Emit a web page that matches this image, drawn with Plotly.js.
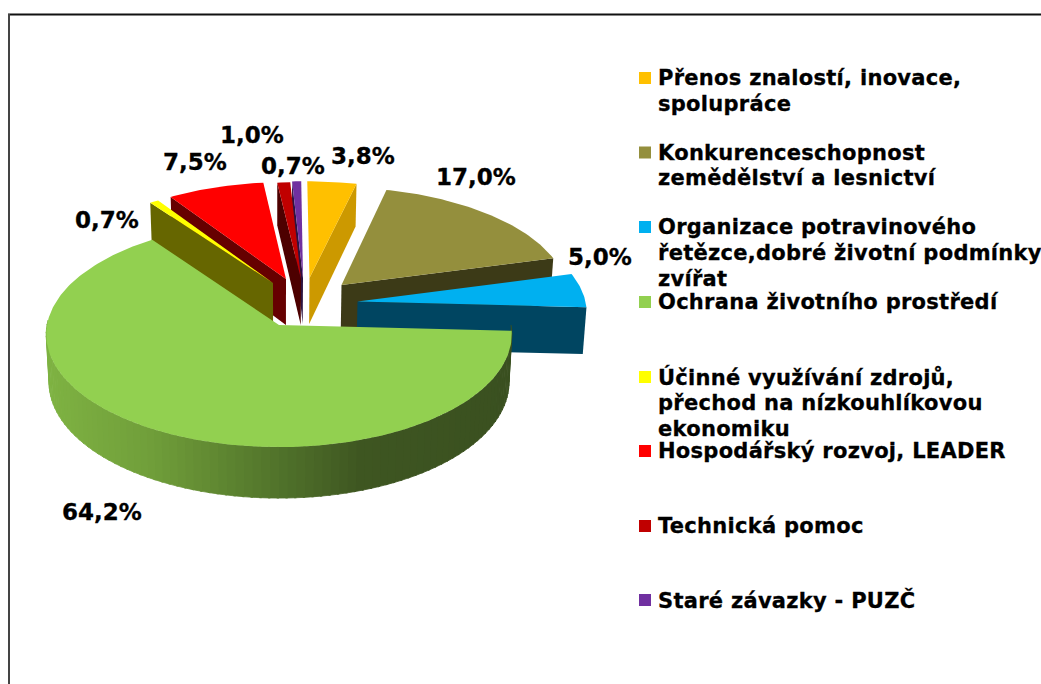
<!DOCTYPE html>
<html><head><meta charset="utf-8">
<script src="https://cdn.plot.ly/plotly-3.0.1.min.js"></script>
<style>html,body{margin:0;padding:0;background:#fff}#chart{width:1041px;height:684px}
.annotation-text{stroke:#000;stroke-width:0.3px}</style></head><body><div id="chart"></div>
<script>
// ---- data ----
const categories = [
  "Přenos znalostí, inovace,<br>spolupráce",
  "Konkurenceschopnost<br>zemědělství a lesnictví",
  "Organizace potravinového<br>řetězce,dobré životní podmínky<br>zvířat",
  "Ochrana životního prostředí",
  "Účinné využívání zdrojů,<br>přechod na nízkouhlíkovou<br>ekonomiku",
  "Hospodářský rozvoj, LEADER",
  "Technická pomoc",
  "Staré závazky - PUZČ"
];
const values = [3.8, 17.0, 5.0, 64.2, 0.7, 7.5, 1.0, 0.7];

// ---- styles ----
const topColors  = ["#FFC000","#948F3D","#00B0F0","#92D050","#FFFF00","#FF0000","#C00000","#7030A0"];
const faceColors = ["#CC9900","#3C3A17","#004561",null,"#666600","#660000","#4D0000","#2D1340"];
const faceRay    = ["end","end","end",null,"start","start","start","start"];
const paintOrder = [0,1,2,7,6,5,4,3];
// where each exploded slice's tip lands on the page
const apexPx = [[309.5,278],[341.5,285],[357.5,301.5],[279,325],[273,283],[286,279],[301,279],[303,278]];
const labelPos = [[363,156],[475.5,176.5],[599.5,256.5],[102,512],[106.5,220],[195,161.5],[252,134.5],[292.5,165.5]];
const legendY = [78,152.5,227,302,377,451,526,600];
const legendLineGap = 25.8;
const wallStops = [[50,[126,178,66]],[150,[112,158,58]],[280,[80,114,42]],[360,[62,86,33]],[510,[58,80,32]]];

// ---- 3D pie projection ----
const CX=279, CY=325, A=232, B=112, K=0.0825;
function toPlane(ax,ay){const X=ax-CX,Y=ay-CY;const v=Y/(B+K*Y);return [X*(1-K*v)/A,v];}
function proj(u,v,h){
  const d=1-K*v; let X=A*u/d, Y=B*v/d;
  if(h){X*=0.988; Y+=47.5+3.5*v;}
  return [CX+X,CY+Y];
}
function rim(o,deg,h){const t=deg*Math.PI/180;return proj(o[0]+Math.sin(t),o[1]-Math.cos(t),h);}
function poly(pts,color,w){
  return {type:'scatter',mode:'lines',x:pts.map(p=>p[0]),y:pts.map(p=>p[1]),fill:'toself',fillcolor:color,
    line:{color:color,width:w||0},hoverinfo:'skip',showlegend:false};
}
function mix(x){
  let i=0; while(i<wallStops.length-2&&x>wallStops[i+1][0])i++;
  const a=wallStops[i],b=wallStops[i+1];const t=Math.max(0,Math.min(1,(x-a[0])/(b[0]-a[0])));
  return 'rgb('+a[1].map((c,j)=>Math.round(c+(b[1][j]-c)*t)).join(',')+')';
}
const traces=[];
const total=values.reduce((a,b)=>a+b,0);
const starts=[];values.reduce((acc,v,i)=>{starts[i]=acc;return acc+v/total*360;},0);
paintOrder.forEach(i=>{
  const o=toPlane(apexPx[i][0],apexPx[i][1]);
  const s=starts[i], e=s+values[i]/total*360;
  if(faceRay[i]){
    const ang=faceRay[i]==='end'?e:s;
    traces.push(poly([proj(o[0],o[1],0),rim(o,ang,0),rim(o,ang,1),proj(o[0],o[1],1)],faceColors[i]));
  }
  if(i===3){
    for(let d=90;d<272;d+=2){
      const a=rim(o,d,0),b=rim(o,d+2.5,0),c=rim(o,d+2.5,1),f=rim(o,d,1);
      traces.push(poly([a,b,c,f],mix((a[0]+b[0])/2),0.8));
    }
  }
  const top=[proj(o[0],o[1],0)];
  for(let d=s;d<e;d+=1)top.push(rim(o,d,0));
  top.push(rim(o,e,0));
  traces.push(poly(top,topColors[i]));
});
// legend swatches
traces.push({type:'scatter',mode:'markers',x:categories.map(()=>645),y:legendY,
  marker:{symbol:'square',size:12,color:topColors},hoverinfo:'skip',showlegend:false});

const valueAnn=values.map((v,i)=>({x:labelPos[i][0],y:labelPos[i][1],xref:'x',yref:'y',xanchor:'center',yanchor:'middle',
  showarrow:false,text:v.toFixed(1).replace('.',',')+'%',font:{family:'DejaVu Sans',size:23,color:'#000',weight:700}}));
const legendAnn=[];
categories.forEach((c,i)=>c.split('<br>').forEach((line,j)=>legendAnn.push({
  x:656.5,y:legendY[i]+j*legendLineGap,xref:'x',yref:'y',xanchor:'left',yanchor:'middle',align:'left',
  showarrow:false,text:'<span style="letter-spacing:0.28px">'+line+'</span>',borderpad:0,
  font:{family:'DejaVu Sans',size:21,color:'#000',weight:700}})));

Plotly.newPlot('chart',traces,{
  width:1041,height:684,margin:{l:0,r:0,t:0,b:0},paper_bgcolor:'#fff',plot_bgcolor:'#fff',showlegend:false,
  xaxis:{range:[0,1041],visible:false,fixedrange:true},
  yaxis:{range:[684,0],visible:false,fixedrange:true},
  annotations:valueAnn.concat(legendAnn),
  shapes:[
    {type:'line',xref:'x',yref:'y',x0:8,x1:1041,y0:14.5,y1:14.5,line:{color:'#111',width:2}},
    {type:'line',xref:'x',yref:'y',x0:9,x1:9,y0:14,y1:684,line:{color:'#444',width:2}}
  ]
},{displayModeBar:false,staticPlot:true});
</script></body></html>
